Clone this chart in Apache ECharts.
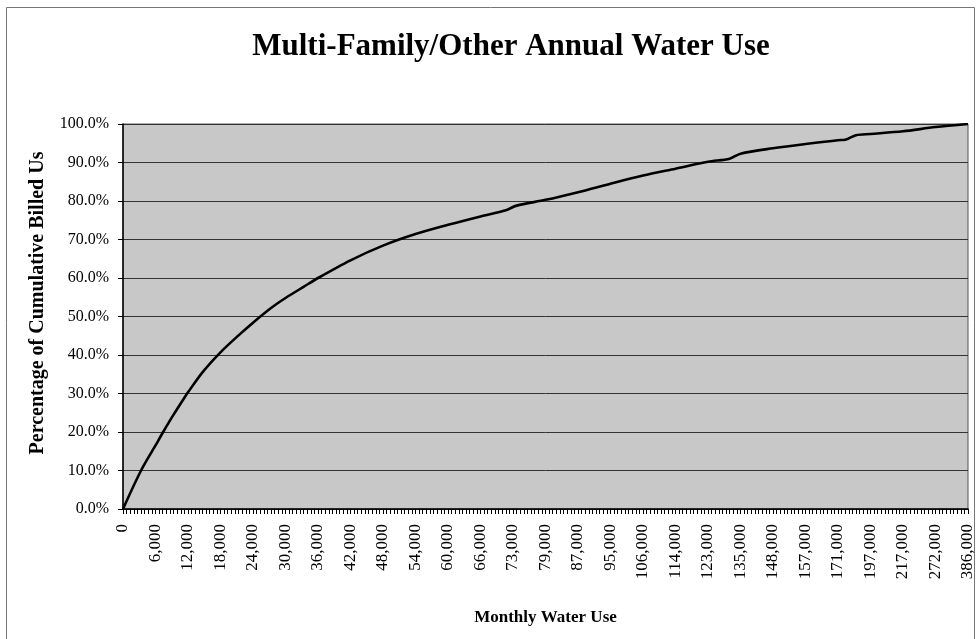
<!DOCTYPE html>
<html>
<head>
<meta charset="utf-8">
<script src="https://cdn.jsdelivr.net/npm/echarts@6/dist/echarts.min.js"></script>
<style>
  html, body { margin: 0; padding: 0; background: #ffffff; }
  #chart { width: 977px; height: 639px; }
</style>
</head>
<body>
<div id="chart"></div>
<script>
// Labelled monthly water use values on the category axis (one label every 9 categories)
const tickLabels = ['0', '6,000', '12,000', '18,000', '24,000', '30,000', '36,000', '42,000',
  '48,000', '54,000', '60,000', '66,000', '73,000', '79,000', '87,000', '95,000', '106,000',
  '114,000', '123,000', '135,000', '148,000', '157,000', '171,000', '197,000', '217,000',
  '272,000', '386,000'];
const categoriesPerLabel = 9;

// Cumulative share of billed use (%), sampled at category positions along the curve
const sampleIndex = [0, 5, 9, 11, 14, 17, 18, 22, 27, 32, 36, 41, 45, 50, 54, 63, 72, 81, 90,
  99, 106, 109, 117, 126, 135, 144, 153, 162, 168, 171, 180, 189, 198, 200, 203, 207, 216, 225, 234];
const samplePercent = [0, 10.0, 16.5, 19.8, 24.5, 28.9, 30.3, 35.5, 40.7, 45.1, 48.4, 52.2, 54.8,
  57.7, 60.0, 64.6, 68.4, 71.4, 73.8, 76.0, 77.6, 78.8, 80.3, 82.3, 84.5, 86.6, 88.4, 90.2, 91.0, 92.3,
  93.7, 94.8, 95.8, 95.9, 97.1, 97.4, 98.1, 99.2, 100];

const categoryCount = (tickLabels.length - 1) * categoriesPerLabel + 1;
const categories = [];
for (let i = 0; i < categoryCount; i++) categories.push('c' + i);
const lineData = sampleIndex.map((idx, k) => [idx, samplePercent[k]]);

const serif = '"Liberation Serif", "Times New Roman", serif';

const chart = echarts.init(document.getElementById('chart'), null, { renderer: 'canvas' });
chart.setOption({
  animation: false,
  backgroundColor: '#ffffff',
  title: {
    text: 'Multi-Family/Other Annual Water Use',
    left: 506,
    top: 26,
    textAlign: 'center',
    textStyle: { fontFamily: serif, fontSize: 31, fontWeight: 'bold', color: '#000' }
  },
  graphic: [{
    type: 'rect',
    shape: { x: 6.5, y: 7.5, width: 968, height: 640 },
    style: { fill: 'none', stroke: '#777', lineWidth: 1 },
    silent: true
  }, {
    // vertical axis title
    type: 'text',
    x: 38,
    y: 303,
    rotation: Math.PI / 2,
    style: {
      text: 'Percentage of Cumulative Billed Us',
      font: 'bold 20px ' + serif,
      fill: '#000',
      align: 'center',
      verticalAlign: 'middle'
    },
    silent: true
  }],
  grid: {
    left: 123, right: 9, top: 124, bottom: 130,
    show: true,
    backgroundColor: '#c8c8c8',
    borderColor: '#555',
    borderWidth: 1
  },
  xAxis: {
    type: 'category',
    data: categories,
    boundaryGap: false,
    name: 'Monthly Water Use',
    nameLocation: 'middle',
    nameGap: 100,
    nameTextStyle: { fontFamily: serif, fontSize: 17, fontWeight: 'bold', color: '#000' },
    axisLine: { show: true, lineStyle: { color: '#000', width: 1.5 } },
    axisTick: { show: true, interval: 0, length: 5, inside: false, lineStyle: { color: '#000' } },
    axisLabel: {
      interval: categoriesPerLabel - 1,
      rotate: 90,
      margin: 15,
      fontFamily: serif,
      fontSize: 17,
      color: '#000',
      formatter: function (value, index) {
        return index % categoriesPerLabel === 0 ? tickLabels[index / categoriesPerLabel] : '';
      }
    },
    splitLine: { show: false }
  },
  yAxis: {
    type: 'value',
    min: 0,
    max: 100,
    interval: 10,
    axisLine: { show: true, lineStyle: { color: '#000', width: 1.5 } },
    axisTick: { show: true, length: 5, inside: false, lineStyle: { color: '#000' } },
    axisLabel: {
      margin: 14,
      fontFamily: serif,
      fontSize: 16,
      color: '#000',
      formatter: v => v.toFixed(1) + '%'
    },
    splitLine: { show: true, lineStyle: { color: '#333', width: 1 } }
  },
  series: [{
    type: 'line',
    data: lineData,
    showSymbol: false,
    smooth: 0.3,
    lineStyle: { color: '#000', width: 2.6 },
    z: 3
  }]
});
</script>
</body>
</html>
